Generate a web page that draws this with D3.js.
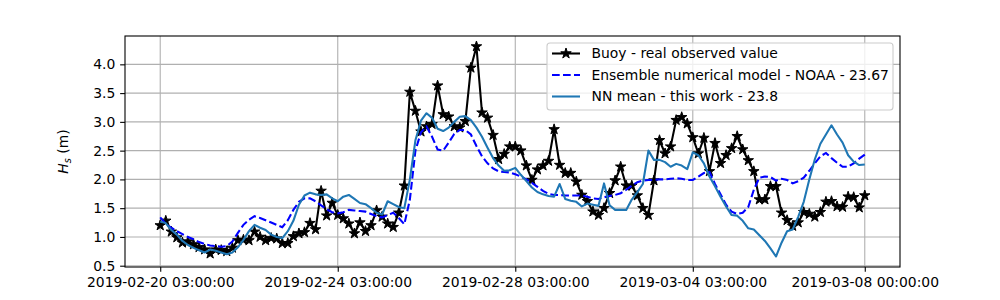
<!DOCTYPE html>
<html>
<head>
<meta charset="utf-8">
<script src="https://cdn.jsdelivr.net/npm/d3@7"></script>
<style>
  html, body { margin: 0; padding: 0; background: #fff; }
  svg { display: block; font-family: "DejaVu Sans", sans-serif; }
</style>
</head>
<body>
<svg id="chart" width="1000" height="300"></svg>
<script>
// ---- data (3-hourly samples starting 2019-02-20 03:00 UTC) ----
const startTime = "2019-02-20T03:00:00Z";
const stepHours = 3;

const buoy = [1.20,1.28,1.09,0.99,0.90,0.92,0.87,0.82,0.78,0.71,
              0.78,0.77,0.75,0.81,0.94,0.95,0.94,1.09,1.00,0.94,
              0.98,0.97,0.89,0.89,1.01,1.06,1.08,1.24,1.13,1.80,
              1.37,1.59,1.38,1.32,1.23,1.06,1.25,1.10,1.20,1.46,
              1.35,1.23,1.17,1.42,1.89,3.52,3.19,2.83,2.92,2.96,
              3.63,3.13,3.09,2.92,2.90,3.01,3.94,4.31,3.16,3.07,
              2.77,2.35,2.44,2.57,2.57,2.50,2.24,1.99,2.17,2.24,
              2.32,2.87,2.25,2.11,2.11,1.96,1.73,1.62,1.44,1.38,
              1.50,1.76,1.98,2.22,1.89,1.89,1.72,1.50,1.38,1.98,
              2.68,2.45,2.57,3.03,3.08,2.97,2.73,2.45,2.72,2.14,
              2.63,2.28,2.42,2.54,2.75,2.52,2.33,2.14,1.65,1.65,
              1.88,1.88,1.42,1.29,1.19,1.25,1.43,1.40,1.35,1.43,
              1.61,1.62,1.53,1.52,1.70,1.69,1.51,1.72];

const noaa = [1.34,1.23,1.16,1.10,1.05,1.00,0.96,0.91,0.88,0.85,
              0.84,0.83,0.84,0.92,1.07,1.21,1.30,1.36,1.33,1.29,
              1.25,1.21,1.17,1.29,1.47,1.61,1.67,1.67,1.62,1.55,
              1.48,1.43,1.41,1.43,1.47,1.46,1.45,1.44,1.40,1.36,
              1.34,1.38,1.42,1.33,1.22,1.65,2.50,2.82,2.92,2.74,
              2.52,2.50,2.64,2.79,2.86,2.86,2.78,2.58,2.40,2.28,
              2.19,2.14,2.13,2.12,2.09,2.05,2.00,1.94,1.87,1.80,
              1.75,1.73,1.73,1.72,1.72,1.72,1.72,1.70,1.67,1.66,
              1.69,1.71,1.73,1.76,1.82,1.89,1.95,1.98,1.99,1.99,
              2.00,2.00,2.01,2.02,2.01,1.99,1.99,2.05,2.11,2.13,
              1.92,1.74,1.56,1.44,1.40,1.42,1.52,1.82,2.03,2.05,
              2.04,1.98,2.01,1.99,1.93,1.97,2.03,2.15,2.28,2.40,
              2.46,2.37,2.29,2.22,2.22,2.28,2.36,2.43];

const nnMean = [1.27,1.24,1.12,1.04,0.93,0.86,0.81,0.77,0.73,0.78,
                0.76,0.73,0.70,0.73,0.82,0.95,1.10,1.21,1.16,1.12,
                1.04,1.00,0.98,1.10,1.28,1.56,1.72,1.77,1.74,1.73,
                1.74,1.67,1.62,1.70,1.73,1.66,1.59,1.57,1.50,1.42,
                1.39,1.62,1.57,1.52,1.50,2.00,2.68,3.02,3.15,3.07,
                2.88,2.84,2.90,3.00,3.09,3.10,3.03,2.90,2.74,2.55,
                2.37,2.24,2.15,2.16,2.20,2.08,1.97,1.86,1.78,1.74,
                1.71,1.70,1.92,1.66,1.63,1.61,1.53,1.58,1.56,1.54,
                1.93,1.55,1.47,1.47,1.47,1.65,1.78,1.92,2.50,2.34,
                2.34,2.30,2.22,2.27,2.24,2.18,2.47,2.42,2.28,2.05,
                1.88,1.70,1.53,1.38,1.37,1.28,1.15,1.13,1.03,0.93,
                0.80,0.66,0.90,1.10,1.13,1.35,1.61,2.00,2.35,2.62,
                2.78,2.94,2.78,2.64,2.42,2.31,2.25,2.26];

const xTickLabels = ["2019-02-20 03:00:00","2019-02-24 03:00:00","2019-02-28 03:00:00",
                     "2019-03-04 03:00:00","2019-03-08 00:00:00"];
const yTickValues = [0.5,1.0,1.5,2.0,2.5,3.0,3.5,4.0];

const seriesNames = ["Buoy - real observed value",
                     "Ensemble numerical model - NOAA - 23.67",
                     "NN mean - this work - 23.8"];

(function () {
// ---- layout ----
const pL = 125, pR = 900, pT = 36, pB = 267;
const svg = d3.select("#chart");

const t0 = new Date(startTime).getTime();
const times = buoy.map((_, i) => new Date(t0 + i * stepHours * 3600e3));

const tExt = d3.extent(times);
const tPad = (tExt[1] - tExt[0]) * 0.05;
const x = d3.scaleUtc()
  .domain([new Date(+tExt[0] - tPad), new Date(+tExt[1] + tPad)])
  .range([pL, pR]);

const allV = buoy.concat(noaa, nnMean);
const vMin = d3.min(allV), vMax = d3.max(allV);
const vPad = (vMax - vMin) * 0.05;
const y = d3.scaleLinear().domain([vMin - vPad, vMax + vPad]).range([pB, pT]);

const parseTick = d3.utcParse("%Y-%m-%d %H:%M:%S");
const xTickDates = xTickLabels.map(parseTick);

// grid
const gGrid = svg.append("g");
xTickDates.forEach(d => {
  gGrid.append("line").attr("x1", x(d)).attr("x2", x(d)).attr("y1", pT).attr("y2", pB)
    .attr("stroke", "#b0b0b0").attr("stroke-width", 1.1);
});
yTickValues.forEach(v => {
  gGrid.append("line").attr("x1", pL).attr("x2", pR).attr("y1", y(v)).attr("y2", y(v))
    .attr("stroke", "#b0b0b0").attr("stroke-width", 1.1);
});

// clip
svg.append("clipPath").attr("id", "clip").append("rect")
  .attr("x", pL).attr("y", pT).attr("width", pR - pL).attr("height", pB - pT);

const plot = svg.append("g").attr("clip-path", "url(#clip)");
const line = d3.line().x((d, i) => x(times[i])).y(d => y(d));

plot.append("path").datum(buoy).attr("d", line)
  .attr("fill", "none").attr("stroke", "#000").attr("stroke-width", 2.08).attr("stroke-linejoin", "round");
const star = d3.symbol().type(d3.symbolStar).size(34);
plot.append("g").selectAll("path").data(buoy).join("path")
  .attr("d", star)
  .attr("transform", (d, i) => `translate(${x(times[i])},${y(d)})`)
  .attr("fill", "#000").attr("stroke", "#000").attr("stroke-width", 1);

plot.append("path").datum(noaa).attr("d", line)
  .attr("fill", "none").attr("stroke", "#0000ff").attr("stroke-width", 2.08)
  .attr("stroke-dasharray", "7.7,3.3");

plot.append("path").datum(nnMean).attr("d", line)
  .attr("fill", "none").attr("stroke", "#1f77b4").attr("stroke-width", 2.08).attr("stroke-linejoin", "round");

// axes
const fs = 13.9;
const xAxis = d3.axisBottom(x).tickValues(xTickDates).tickSize(4.86).tickPadding(4.86)
  .tickFormat(d3.utcFormat("%Y-%m-%d %H:%M:%S"));
const gx = svg.append("g").attr("transform", `translate(0,${pB})`).call(xAxis);
gx.select(".domain").remove();
gx.selectAll(".tick line").attr("stroke", "#000").attr("stroke-width", 1.1);
gx.selectAll(".tick text").attr("font-size", fs).attr("font-family", "DejaVu Sans").attr("fill", "#000");

const yAxis = d3.axisLeft(y).tickValues(yTickValues).tickSize(4.86).tickPadding(4.86)
  .tickFormat(d3.format(".1f"));
const gy = svg.append("g").attr("transform", `translate(${pL},0)`).call(yAxis);
gy.select(".domain").remove();
gy.selectAll(".tick line").attr("stroke", "#000").attr("stroke-width", 1.1);
gy.selectAll(".tick text").attr("font-size", fs).attr("font-family", "DejaVu Sans").attr("fill", "#000");

// frame
svg.append("rect").attr("x", pL).attr("y", pT).attr("width", pR - pL).attr("height", pB - pT)
  .attr("fill", "none").attr("stroke", "#000").attr("stroke-width", 1.1);

// y label
const yl = svg.append("text")
  .attr("transform", `translate(68,${(pT + pB) / 2}) rotate(-90)`)
  .attr("text-anchor", "middle").attr("font-size", fs).attr("fill", "#000");
yl.append("tspan").attr("font-style", "italic").text("H");
yl.append("tspan").attr("font-style", "italic").attr("font-size", fs * 0.7).attr("dy", 3).text("s");
yl.append("tspan").attr("dy", -3).text(" (m)");

// legend
const lg = svg.append("g");
lg.append("rect").attr("x", 547).attr("y", 43).attr("width", 346).attr("height", 67)
  .attr("rx", 3).attr("fill", "#fff").attr("fill-opacity", 0.8)
  .attr("stroke", "#cccccc").attr("stroke-width", 1.1);
const rowY = [53.5, 75, 96.5];
const lx0 = 552, lx1 = 580;
lg.append("line").attr("x1", lx0).attr("x2", lx1).attr("y1", rowY[0]).attr("y2", rowY[0])
  .attr("stroke", "#000").attr("stroke-width", 2.08);
lg.append("path").attr("d", star).attr("transform", `translate(${(lx0 + lx1) / 2},${rowY[0]})`)
  .attr("fill", "#000").attr("stroke", "#000").attr("stroke-width", 1);
lg.append("line").attr("x1", lx0).attr("x2", lx1).attr("y1", rowY[1]).attr("y2", rowY[1])
  .attr("stroke", "#0000ff").attr("stroke-width", 2.08).attr("stroke-dasharray", "7.7,3.3");
lg.append("line").attr("x1", lx0).attr("x2", lx1).attr("y1", rowY[2]).attr("y2", rowY[2])
  .attr("stroke", "#1f77b4").attr("stroke-width", 2.08);
seriesNames.forEach((s, i) => {
  lg.append("text").attr("x", 591.5).attr("y", rowY[i]).attr("dy", "0.35em")
    .attr("font-size", fs).attr("fill", "#000").text(s);
});
})();
</script>
</body>
</html>
